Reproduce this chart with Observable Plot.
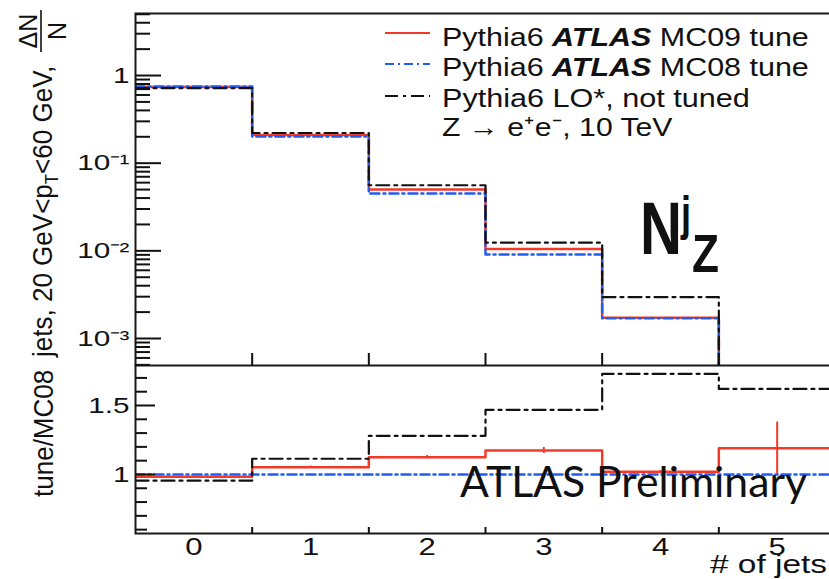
<!DOCTYPE html>
<html><head><meta charset="utf-8">
<script src="https://cdn.jsdelivr.net/npm/d3@7"></script>
<script src="https://cdn.jsdelivr.net/npm/@observablehq/plot@0.6"></script>
<style>
body{margin:0;background:#fff;}
#chart{position:relative;width:829px;height:579px;overflow:hidden;background:#fff;}
#chart svg{position:absolute;left:0;}
#chart text{white-space:pre;}
</style></head><body><div id="chart"></div>
<script>
// ---------- data ----------
const nJets = [0, 1, 2, 3, 4, 5];
const binEdges = [-0.5, 0.5, 1.5, 2.5, 3.5, 4.5, 5.5];
const seriesNames = ["Pythia6 ATLAS MC09 tune", "Pythia6 ATLAS MC08 tune", "Pythia6 LO*, not tuned"];
const processLabel = "Z \u2192 e\u207Ae\u207B, 10 TeV";
const fracMC09 = [0.74, 0.21, 0.050, 0.0105, 0.00172, 0.00036];
const fracMC08 = [0.75, 0.201, 0.045, 0.0091, 0.0017, 0.00030];
const fracLO   = [0.72, 0.221, 0.056, 0.0124, 0.00297, 0.00045];
const ratioMC09    = [0.984, 1.053, 1.125, 1.174, 1.02, 1.19];
const ratioMC09Err = [0.004, 0.008, 0.012, 0.022, 0.010, 0.19];
const ratioMC08    = [1, 1, 1, 1, 1, 1];
const ratioLO      = [0.955, 1.114, 1.28, 1.469, 1.73, 1.62];
const topMajorTicks = [1e-3, 1e-2, 1e-1, 1];
const topTickLabels = ["10\u207B\u00B3", "10\u207B\u00B2", "10\u207B\u00B9", "1"];
const ratioMajorTicks = [1, 1.5];
const ratioTickLabels = ["1", "1.5"];
const topYTitle = ["jets, 20 GeV<p", "T", "<60 GeV,"];
const ratioYTitle = "tune/MC08";
const xTitle = "# of jets";

// ---------- style ----------
const red = "#f23a28", blue = "#1f5cf2", black = "#111";
const blueDash = "9,4,2,4", blackDash = "13,5,3,5";
const font = "'Liberation Sans', Arial, Helvetica, sans-serif";
const W = 829;
const xDomain = [-0.5, 5.5];

function steps(values) {
  const pts = values.map((v, i) => ({x: binEdges[i], y: v}));
  pts.push({x: binEdges[values.length], y: values[values.length - 1]});
  return pts;
}
const topDomain = [4.92e-4, 5.1];
const topMinor = [];
for (const dec of [1e-4, 1e-3, 1e-2, 1e-1, 1])
  for (let m = 2; m <= 9; m++) { const v = m * dec; if (v >= topDomain[0] && v <= topDomain[1]) topMinor.push(v); }
const ratioMinor = d3.range(6, 18).map(v => v / 10).filter(v => v !== 1 && v !== 1.5);
const topLabelMap = new Map(topMajorTicks.map((t, i) => [t, topTickLabels[i]]));
const ratioLabelMap = new Map(ratioMajorTicks.map((t, i) => [t, ratioTickLabels[i]]));

function stretchText(g, str, x, y, w, attrs) {
  const t = g.append("text").attr("class", "stretch").attr("text-anchor", "start")
    .attr("data-x", x).attr("data-y", y).attr("data-w", w);
  for (const k in attrs) t.attr(k, attrs[k]);
  if (str != null) t.text(str);
  return t;
}

function topAnnotations() {
  return () => {
    const g = d3.create("svg:g").attr("font-family", font).attr("fill", black).attr("text-anchor", "start");
    // y title (rotated)
    const t = g.append("text").attr("transform", "translate(52,357) rotate(-90) scale(0.93,1)").attr("font-size", 28);
    t.append("tspan").text(topYTitle[0]);
    t.append("tspan").attr("font-size", 18).attr("dy", 6).text(topYTitle[1]);
    t.append("tspan").attr("dy", -6).text(topYTitle[2]);
    g.append("text").attr("transform", "translate(37,31) rotate(-90)").attr("font-size", 25).attr("text-anchor", "middle").text("\u0394N");
    g.append("text").attr("transform", "translate(66,31) rotate(-90)").attr("font-size", 25).attr("text-anchor", "middle").text("N");
    g.append("line").attr("x1", 41).attr("x2", 41).attr("y1", 10).attr("y2", 52).attr("stroke", black).attr("stroke-width", 1.6);
    // legend
    const rows = [{s: red, d: null}, {s: blue, d: blueDash}, {s: black, d: blackDash}];
    const lineY = [33, 64, 96], baseY = [45.5, 76, 107], widths = [367, 367, 308];
    rows.forEach((r, i) => {
      g.append("line").attr("x1", 385).attr("x2", 430).attr("y1", lineY[i]).attr("y2", lineY[i])
        .attr("stroke", r.s).attr("stroke-width", 2.2).attr("stroke-dasharray", r.d);
      const tx = stretchText(g, null, 442, baseY[i], widths[i], {"font-size": 26});
      const parts = seriesNames[i].split("ATLAS");
      tx.append("tspan").text(parts[0]);
      if (parts.length > 1) {
        tx.append("tspan").attr("font-weight", "bold").attr("font-style", "italic").text("ATLAS");
        tx.append("tspan").text(parts[1]);
      }
    });
    stretchText(g, processLabel, 442, 136, 230, {"font-size": 26});
    // N^j_Z
    stretchText(g, "N", 640, 254, 42, {"font-size": 75, "font-weight": "bold"});
    stretchText(g, "j", 681, 230, 10, {"font-size": 48, "font-weight": "bold"});
    stretchText(g, "Z", 692, 272, 27, {"font-size": 54, "font-weight": "bold"});
    return g.node();
  };
}

function bottomAnnotations() {
  return () => {
    const g = d3.create("svg:g").attr("font-family", font).attr("fill", black).attr("text-anchor", "start");
    g.append("text").attr("transform", "translate(53,132) rotate(-90) scale(0.93,1)").attr("font-size", 28).text(ratioYTitle);
    stretchText(g, "ATLAS Preliminary", 460, 132, 347, {"font-size": 42, "font-family": "Lato, 'Open Sans', sans-serif"});
    stretchText(g, xTitle, 710, 208, 117, {"font-size": 25});
    return g.node();
  };
}

const frameStyle = {stroke: "#1a1a1a", strokeWidth: 2};

const topPlot = Plot.plot({
  width: W, height: 366, marginTop: 13, marginBottom: 1, marginLeft: 135, marginRight: -6,
  x: {domain: xDomain, axis: null},
  y: {type: "log", domain: topDomain, axis: null},
  style: {fontFamily: font, background: "transparent", color: black},
  marks: [
    Plot.line(steps(fracMC09), {x: "x", y: "y", curve: "step-after", stroke: red, strokeWidth: 2.5, clip: true}),
    Plot.line(steps(fracMC08), {x: "x", y: "y", curve: "step-after", stroke: blue, strokeWidth: 2.5, strokeDasharray: blueDash, clip: true}),
    Plot.line(steps(fracLO), {x: "x", y: "y", curve: "step-after", stroke: black, strokeWidth: 2.2, strokeDasharray: blackDash, clip: true}),
    Plot.frame(frameStyle),
    Plot.axisY({ticks: topMinor, tickSize: -15, tickFormat: () => "", strokeWidth: 2, label: null}),
    Plot.axisY({ticks: topMajorTicks, tickSize: -26, tickPadding: 32, strokeWidth: 2, label: null,
      tickFormat: d => topLabelMap.get(d), fontSize: 22}),
    Plot.axisX({ticks: binEdges.slice(1, -1), tickSize: -12, tickFormat: () => "", strokeWidth: 2, anchor: "bottom", label: null}),
    topAnnotations()
  ]
});

const errRows = nJets.map((n, i) => ({n, lo: ratioMC09[i] - ratioMC09Err[i], hi: ratioMC09[i] + ratioMC09Err[i]}));

const bottomPlot = Plot.plot({
  width: W, height: 214, marginTop: 0, marginBottom: 46, marginLeft: 135, marginRight: -6,
  x: {domain: xDomain, axis: null},
  y: {domain: [0.572, 1.79], axis: null},
  style: {fontFamily: font, background: "transparent", color: black},
  marks: [
    Plot.line(steps(ratioMC08), {x: "x", y: "y", curve: "step-after", stroke: blue, strokeWidth: 2.5, strokeDasharray: blueDash, clip: true}),
    Plot.line(steps(ratioMC09), {x: "x", y: "y", curve: "step-after", stroke: red, strokeWidth: 2.5, clip: true}),
    Plot.ruleX(errRows, {x: "n", y1: "lo", y2: "hi", stroke: red, strokeWidth: 2, clip: true}),
    Plot.line(steps(ratioLO), {x: "x", y: "y", curve: "step-after", stroke: black, strokeWidth: 2.2, strokeDasharray: blackDash, clip: true}),
    Plot.frame(frameStyle),
    Plot.axisY({ticks: ratioMinor, tickSize: -12, tickFormat: () => "", strokeWidth: 2, label: null}),
    Plot.axisY({ticks: ratioMajorTicks, tickSize: -20, tickPadding: 26, strokeWidth: 2, label: null,
      tickFormat: d => ratioLabelMap.get(d), fontSize: 22}),
    Plot.axisX({ticks: binEdges.slice(1, -1), tickSize: -6, tickFormat: () => "", strokeWidth: 2, anchor: "bottom", label: null}),
    Plot.axisX({ticks: nJets, tickSize: 0, tickPadding: 5, anchor: "bottom", fontSize: 23, label: null, tickFormat: d => String(d)}),
    bottomAnnotations()
  ]
});

const chart = document.getElementById("chart");
bottomPlot.style.top = "365px";
topPlot.style.top = "0px";
chart.appendChild(bottomPlot);
chart.appendChild(topPlot);

// horizontal stretch of the text like in the reference picture
for (const svg of [topPlot, bottomPlot]) {
  svg.querySelectorAll('g[aria-label$="tick label"] text').forEach(t => {
    const L = t.getComputedTextLength();
    if (L > 0) { t.setAttribute("textLength", L * 1.35); t.setAttribute("lengthAdjust", "spacingAndGlyphs"); }
  });
  svg.querySelectorAll("text.stretch").forEach(t => {
    const L = t.getComputedTextLength();
    const x = +t.dataset.x, y = +t.dataset.y, w = +t.dataset.w;
    const s = L > 0 ? w / L : 1;
    t.setAttribute("transform", `translate(${x},${y}) scale(${s},1)`);
  });
}
</script></body></html>
